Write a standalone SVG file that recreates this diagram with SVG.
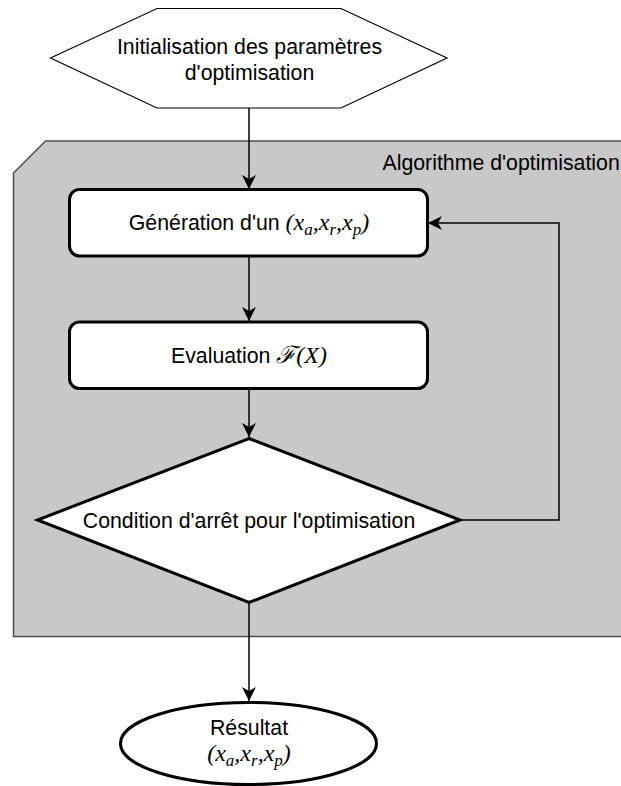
<svg xmlns="http://www.w3.org/2000/svg" width="621" height="786" viewBox="0 0 621 786">
  <style>
    .lbl { font-family: "Liberation Sans", Arial, sans-serif; font-size: 21.3px; fill: #000; }
    .math { font-family: "Liberation Serif", "DejaVu Serif", serif; font-style: italic; font-size: 24px; }
    .sub { font-size: 17px; }
    .node { fill: #fff; stroke: #000; stroke-width: 3; }
    .edge { fill: none; stroke: #000; stroke-width: 1.5; }
  </style>
  <defs>
    <marker id="arrow" markerUnits="userSpaceOnUse" markerWidth="16" markerHeight="14" refX="14" refY="7" orient="auto">
      <path d="M0,0 L14,7 L0,14 L4,7 Z" fill="#000"/>
    </marker>
  </defs>

  <rect width="621" height="786" fill="#fff"/>

  <!-- optimisation loop container -->
  <g id="container">
    <path d="M45.5,141 L630,141 L630,636.5 L13.5,636.5 L13.5,173 Z" fill="#c8c8c8" stroke="#4d4d4d" stroke-width="1.5"/>
    <text class="lbl" x="382.5" y="170">Algorithme d'optimisation</text>
  </g>

  <!-- connectors -->
  <g id="connectors">
    <path class="edge" d="M249,108 V189" marker-end="url(#arrow)"/>
    <path class="edge" d="M249,256 V321" marker-end="url(#arrow)"/>
    <path class="edge" d="M249,388 V437" marker-end="url(#arrow)"/>
    <path class="edge" d="M460,520 H559 V223 H428" marker-end="url(#arrow)"/>
    <path class="edge" d="M249,603 V701" marker-end="url(#arrow)"/>
  </g>

  <g id="init">
    <polygon points="50.5,58 157,8.5 341,8.5 447,58 341,108 157,108" fill="#fff" stroke="#000" stroke-width="1.2"/>
    <text class="lbl" x="249.5" y="53.5" text-anchor="middle">Initialisation des paramètres</text>
    <text class="lbl" x="249.5" y="80" text-anchor="middle">d'optimisation</text>
  </g>

  <g id="generation">
    <rect class="node" x="69.5" y="189.5" width="358" height="66.5" rx="10"/>
    <text class="lbl" x="249" y="230" text-anchor="middle">Génération d'un <tspan class="math">(x<tspan class="sub" dy="5">a</tspan><tspan dy="-5">,x</tspan><tspan class="sub" dy="5">r</tspan><tspan dy="-5">,x</tspan><tspan class="sub" dy="5">p</tspan><tspan dy="-5">)</tspan></tspan></text>
  </g>

  <g id="evaluation">
    <rect class="node" x="69.5" y="322" width="358" height="66.5" rx="10"/>
    <text class="lbl" x="249" y="362.5" text-anchor="middle">Evaluation <tspan class="math">ℱ(X)</tspan></text>
  </g>

  <g id="stop">
    <polygon class="node" points="249,438.5 460,520 249,602.5 37.5,520"/>
    <text class="lbl" x="249" y="528" text-anchor="middle">Condition d'arrêt pour l'optimisation</text>
  </g>

  <g id="result">
    <ellipse class="node" cx="248.5" cy="743.5" rx="128" ry="41"/>
    <text class="lbl" x="249" y="735" text-anchor="middle">Résultat</text>
    <text class="lbl" x="249" y="761" text-anchor="middle"><tspan class="math">(x<tspan class="sub" dy="5">a</tspan><tspan dy="-5">,x</tspan><tspan class="sub" dy="5">r</tspan><tspan dy="-5">,x</tspan><tspan class="sub" dy="5">p</tspan><tspan dy="-5">)</tspan></tspan></text>
  </g>
</svg>
